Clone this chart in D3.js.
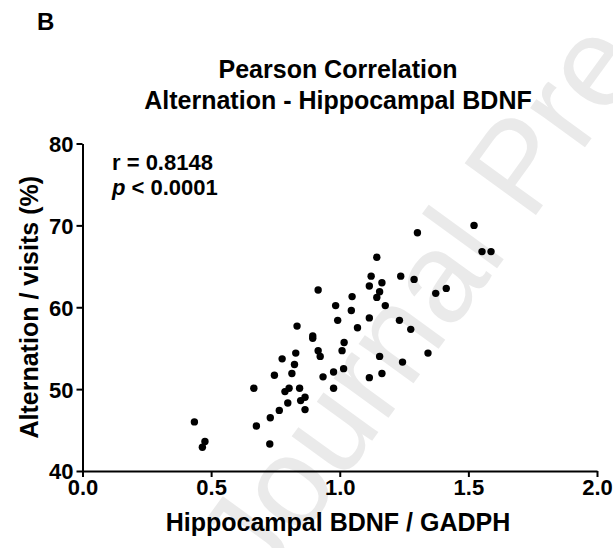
<!DOCTYPE html>
<html>
<head>
<meta charset="utf-8">
<script src="https://cdn.jsdelivr.net/npm/d3@7"></script>
<style>
  html, body { margin: 0; padding: 0; background: #fff; }
  svg { display: block; font-family: "Liberation Sans", Arial, sans-serif; }
</style>
</head>
<body>
<svg id="chart" width="613" height="548"></svg>
<script>
// Data: Hippocampal BDNF / GADPH (x) vs Alternation / visits % (y)
const bdnf = [0.435, 0.476, 0.466, 0.666, 0.676, 0.728, 0.730, 0.765, 0.798, 0.746,
              0.776, 0.829, 0.824, 0.814, 0.787, 0.803, 0.844, 0.848, 0.865, 0.865,
              0.834, 0.895, 0.895, 0.916, 0.916, 0.924, 0.935, 0.976, 0.976, 0.984,
              0.992, 1.015, 1.009, 1.017, 1.048, 1.045, 1.069, 1.115, 1.115, 1.115,
              1.122, 1.144, 1.155, 1.144, 1.164, 1.177, 1.155, 1.164, 1.237, 1.289,
              1.232, 1.276, 1.244, 1.302, 1.343, 1.373, 1.414, 1.522, 1.553, 1.588];
const alternation = [46.0, 43.6, 42.9, 50.1, 45.5, 43.3, 46.5, 47.4, 48.3, 51.7,
                     53.7, 54.4, 53.0, 51.9, 49.7, 50.1, 50.1, 48.6, 49.0, 47.5,
                     57.7, 56.5, 56.2, 62.1, 54.7, 54.0, 51.5, 52.1, 50.1, 60.2,
                     58.4, 52.5, 54.7, 55.7, 61.3, 59.6, 57.5, 58.7, 51.4, 62.6,
                     63.8, 66.1, 61.9, 61.2, 63.0, 60.2, 54.0, 51.9, 63.8, 63.4,
                     58.4, 57.3, 53.3, 69.1, 54.4, 61.7, 62.3, 70.0, 66.8, 66.8];
const xTicks = [0.0, 0.5, 1.0, 1.5, 2.0];
const yTicks = [40, 50, 60, 70, 80];
const panelLabel = "B";
const titleLines = ["Pearson Correlation", "Alternation - Hippocampal BDNF"];
const xTitle = "Hippocampal BDNF / GADPH";
const yTitle = "Alternation / visits (%)";
const rText = "r = 0.8148";
const pText = "< 0.0001";

const svg = d3.select("#chart");
const x = d3.scaleLinear().domain([0, 2]).range([82.5, 597]);
const y = d3.scaleLinear().domain([40, 80]).range([471, 143.5]);

// Watermark
svg.append("text")
  .attr("transform", "translate(262,592) rotate(-54)")
  .attr("font-size", 128)
  .attr("font-family", "Liberation Sans, Arial, sans-serif")
  .attr("fill", "#eaeaea")
  .text("Journal Pre-proof");

// Panel label
svg.append("text").attr("x", 37).attr("y", 30)
  .attr("font-size", 24).attr("font-weight", "bold").text(panelLabel);

// Title
svg.append("g").selectAll("text").data(titleLines).join("text")
  .attr("x", 338).attr("y", (d, i) => 78 + i * 31)
  .attr("text-anchor", "middle").attr("font-size", 25).attr("font-weight", "bold")
  .text(d => d);

// Axes
const xAxis = d3.axisBottom(x).tickValues(xTicks).tickFormat(d3.format(".1f")).tickSize(6).tickSizeOuter(0);
const yAxis = d3.axisLeft(y).tickValues(yTicks).tickFormat(d3.format("d")).tickSize(6).tickSizeOuter(0);

const gx = svg.append("g").attr("transform", `translate(0,${y(40)})`).call(xAxis);
const gy = svg.append("g").attr("transform", `translate(${x(0)},0)`).call(yAxis);

[gx, gy].forEach(g => {
  g.select(".domain").attr("stroke", "#000").attr("stroke-width", 2);
  g.selectAll(".tick line").attr("stroke", "#000").attr("stroke-width", 2);
  g.selectAll(".tick text").attr("fill", "#000").attr("font-size", 22)
    .attr("font-weight", "bold").attr("font-family", "Liberation Sans, Arial, sans-serif");
});
gx.selectAll(".tick text").attr("dy", null).attr("y", 24);
gy.selectAll(".tick text").attr("x", -9).attr("dy", "0.36em");

// Axis titles
svg.append("text").attr("x", 338).attr("y", 531)
  .attr("text-anchor", "middle").attr("font-size", 25).attr("font-weight", "bold").text(xTitle);
svg.append("text").attr("transform", `translate(38,${(y(40) + y(80)) / 2}) rotate(-90)`)
  .attr("text-anchor", "middle").attr("font-size", 25).attr("font-weight", "bold").text(yTitle);

// Stats annotation
svg.append("text").attr("x", 112).attr("y", 170)
  .attr("font-size", 22).attr("font-weight", "bold").text(rText);
const pt = svg.append("text").attr("x", 112).attr("y", 195)
  .attr("font-size", 22).attr("font-weight", "bold");
pt.append("tspan").attr("font-style", "italic").text("p");
pt.append("tspan").text(" " + pText);

// Points
svg.append("g").selectAll("circle").data(bdnf.map((d, i) => [d, alternation[i]])).join("circle")
  .attr("cx", d => x(d[0])).attr("cy", d => y(d[1])).attr("r", 3.7).attr("fill", "#000");
</script>
</body>
</html>
